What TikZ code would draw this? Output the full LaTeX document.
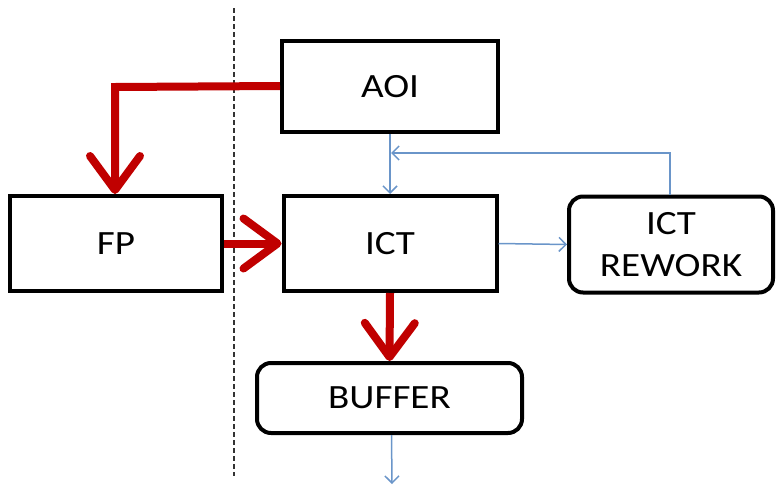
\documentclass[tikz,border=0pt]{standalone}
\usepackage{fontspec}
\setmainfont[FakeStretch=1.15]{Carlito}
\usetikzlibrary{arrows.meta}
\definecolor{redarr}{HTML}{C00000}
\definecolor{bluearr}{HTML}{6A95C9}
\tikzset{
  box/.style={draw=black, line width=4pt, fill=white, inner sep=0pt, font=\fontsize{34}{40}\selectfont},
  rbox/.style={box, rounded corners=14pt},
  redflow/.style={draw=redarr, line width=8pt, -{Straight Barb[length=34pt,width=50pt,round]}},
  blueflow/.style={draw=bluearr, line width=1.5pt, -{Straight Barb[length=7pt,width=14pt]}},
}
\begin{document}
\begin{tikzpicture}[x=1pt,y=-1pt]
\useasboundingbox (0,0) rectangle (776,485);
\draw[line width=2.2pt, draw=black!80, dash pattern=on 5pt off 3pt] (234,8) -- (234,476);
\node[box, minimum width=216pt, minimum height=91pt] (aoi) at (390,86.5) {AOI};
\node[box, minimum width=213pt, minimum height=95pt] (ict) at (390,243.5) {ICT};
\node[box, minimum width=212pt, minimum height=95pt] (fp) at (116,243.5) {FP};
\node[rbox, minimum width=204pt, minimum height=96pt, align=center, font=\fontsize{34}{42}\selectfont] (rw) at (671,244.5) {ICT\\REWORK};
\node[rbox, minimum width=265pt, minimum height=70pt] (buf) at (389.5,398) {BUFFER};
\coordinate (bend) at (115,87);
\coordinate (fb1) at (670,153);
\coordinate (fb2) at (391,153);
\coordinate (out) at (392,484);
\draw[redflow, line cap=butt] ([yshift=0.5pt]aoi.west) -- (bend) -- (fp.north -| bend);
\draw[redflow] (fp.east) -- (ict.west);
\draw[redflow] (ict.south) -- (buf.north);
\draw[blueflow] (aoi.south) -- (ict.north);
\draw[blueflow] (rw.north -| fb1) -- (fb1) -- (fb2);
\draw[blueflow] (ict.east) -- (rw.west);
\draw[blueflow] ([xshift=2pt]buf.south) -- (out);
\end{tikzpicture}
\end{document}
